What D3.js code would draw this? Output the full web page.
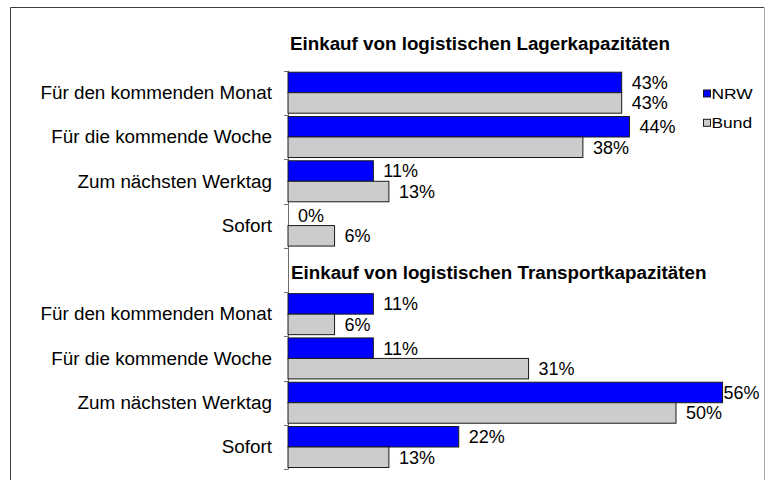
<!DOCTYPE html>
<html>
<head>
<meta charset="utf-8">
<script src="https://cdn.jsdelivr.net/npm/d3@7"></script>
<style>
  html, body { margin: 0; padding: 0; background: #fff; }
  svg { display: block; font-family: Arial, "Liberation Sans", sans-serif; }
</style>
</head>
<body>
<svg id="chart" width="765" height="480"></svg>
<script>
// ---- data ----
const categories = ["Für den kommenden Monat", "Für die kommende Woche", "Zum nächsten Werktag", "Sofort"];
const sectionTitles = ["Einkauf von logistischen Lagerkapazitäten", "Einkauf von logistischen Transportkapazitäten"];
const seriesNames = ["NRW", "Bund"];
const lagerNRW = [43, 44, 11, 0];
const lagerBund = [43, 38, 13, 6];
const transportNRW = [11, 11, 56, 22];
const transportBund = [6, 31, 50, 13];
const valueSuffix = "%";

// ---- layout ----
const svg = d3.select("#chart");
const colors = { NRW: "#0000FF", Bund: "#CCCCCC" };

// rows: 4 Lager categories, 1 title row, 4 Transport categories
const rows = [];
categories.forEach((c, i) => rows.push({ key: "L" + i, label: c, nrw: lagerNRW[i], bund: lagerBund[i] }));
rows.push({ key: "TT", title: sectionTitles[1] });
categories.forEach((c, i) => rows.push({ key: "T" + i, label: c, nrw: transportNRW[i], bund: transportBund[i] }));

const y = d3.scaleBand().domain(rows.map(r => r.key)).range([70.7, 469.3]).padding(0);
const x = d3.scaleLinear().domain([0, 60]).range([288, 753.6]);
const bw = y.bandwidth();
const barH = 20.5, barOff = 1.5;

// background
svg.append("rect").attr("width", 765).attr("height", 480).attr("fill", "#fff");

// outer frame
svg.append("line").attr("x1", 10.5).attr("x2", 764).attr("y1", 7.5).attr("y2", 7.5).attr("stroke", "#404040");
svg.append("line").attr("x1", 10.5).attr("x2", 10.5).attr("y1", 7.5).attr("y2", 480).attr("stroke", "#404040");
svg.append("line").attr("x1", 764.5).attr("x2", 764.5).attr("y1", 7.5).attr("y2", 480).attr("stroke", "#a8a8a8");

// section title 1
svg.append("text").attr("x", 290).attr("y", 50)
  .attr("font-size", 18.8).attr("font-weight", "bold").attr("fill", "#000")
  .text(sectionTitles[0]);

// axis line + ticks
const axisG = svg.append("g");
axisG.append("line").attr("x1", 288.5).attr("x2", 288.5)
  .attr("y1", y.range()[0]).attr("y2", y.range()[1]).attr("stroke", "#707070");
const tickYs = rows.map(r => y(r.key)).concat([y.range()[1]]);
axisG.selectAll("line.tick").data(tickYs).join("line").attr("class", "tick")
  .attr("x1", 284).attr("x2", 288.5)
  .attr("y1", d => Math.round(d) + 0.5).attr("y2", d => Math.round(d) + 0.5)
  .attr("stroke", "#707070");

// category labels
const catRows = rows.filter(r => !r.title);
svg.selectAll("text.cat").data(catRows).join("text").attr("class", "cat")
  .attr("font-size", 17.8).attr("fill", "#000").attr("text-anchor", "end")
  .attr("transform", d => `translate(272, ${y(d.key) + bw / 2 + 6.2}) scale(1.06,1)`)
  .text(d => d.label);

// title row 2
const tRow = rows.find(r => r.title);
svg.append("text").attr("x", 291).attr("y", y(tRow.key) + bw / 2 + 9.3)
  .attr("font-size", 18.8).attr("font-weight", "bold").attr("fill", "#000")
  .text(tRow.title);

// bars
const barData = [];
catRows.forEach(r => {
  barData.push({ row: r.key, s: "NRW", v: r.nrw, yy: y(r.key) + barOff });
  barData.push({ row: r.key, s: "Bund", v: r.bund, yy: y(r.key) + barOff + barH });
});
svg.selectAll("rect.bar").data(barData).join("rect").attr("class", "bar")
  .attr("x", x(0)).attr("y", d => d.yy)
  .attr("width", d => x(d.v) - x(0)).attr("height", barH)
  .attr("fill", d => colors[d.s])
  .attr("stroke", d => d.v > 0 ? "#1a1a1a" : "none").attr("stroke-width", 1);

// value labels
const labels = svg.selectAll("text.val").data(barData).join("text").attr("class", "val")
  .attr("font-size", 18).attr("fill", "#000")
  .attr("y", d => d.yy + barH / 2 + 6.4)
  .text(d => d.v + valueSuffix);
labels.each(function (d) {
  const w = this.getComputedTextLength();
  let lx = x(d.v) + 10;
  if (lx + w > 760) lx = x(d.v) + 1;
  d3.select(this).attr("x", lx);
});

// legend
const legY = [93.7, 123];
const leg = svg.selectAll("g.leg").data(seriesNames).join("g").attr("class", "leg");
leg.append("rect").attr("x", 703.5).attr("y", (d, i) => legY[i] - 3.7)
  .attr("width", 7).attr("height", 7)
  .attr("fill", d => colors[d]).attr("stroke", "#1a1a1a");
leg.append("text").attr("font-size", 14.5).attr("fill", "#000")
  .attr("transform", (d, i) => `translate(711.5, ${legY[i] + 5.2}) scale(1.2,1)`)
  .text(d => d);
</script>
</body>
</html>
